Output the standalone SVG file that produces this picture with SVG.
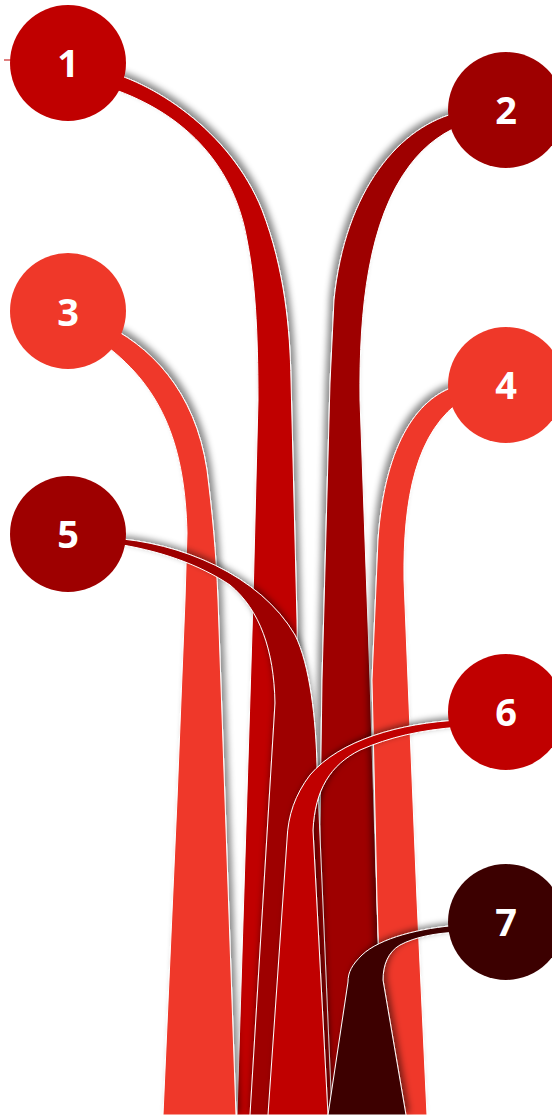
<svg xmlns="http://www.w3.org/2000/svg" width="552" height="1115" viewBox="0 0 552 1115">
<style>
.rib{stroke:#ffffff;stroke-width:1;stroke-linejoin:round}
.c1{fill:#C00000}.c2{fill:#9E0000}.c3{fill:#EF3829}.c7{fill:#3C0000}
.num{font-family:"Open Sans","DejaVu Sans",sans-serif;font-weight:700;font-size:38px;fill:#ffffff;text-anchor:middle}
</style>
<defs>
<filter id="shR" x="-30%" y="-10%" width="160%" height="130%"><feDropShadow dx="4" dy="-3" stdDeviation="3" flood-color="#000" flood-opacity="0.45"/></filter>
<filter id="shL" x="-30%" y="-10%" width="160%" height="130%"><feDropShadow dx="-4" dy="-3" stdDeviation="3" flood-color="#000" flood-opacity="0.45"/></filter>
<filter id="shU" x="-30%" y="-10%" width="160%" height="130%"><feDropShadow dx="0" dy="-3" stdDeviation="3" flood-color="#000" flood-opacity="0.45"/></filter>
<filter id="shUR" x="-30%" y="-20%" width="160%" height="140%"><feDropShadow dx="3" dy="-3" stdDeviation="3" flood-color="#000" flood-opacity="0.5"/></filter>
</defs>
<g id="connectors">
<path id="ribbon-1" class="rib c1" filter="url(#shR)" d="M 100,70 C 150,80 230,130 262,210 C 285,270 290,330 291,380 L 297,620 L 302,1115 L 237,1115 L 253,600 L 258,400 C 258,330 255,280 247,240 C 235,170 190,115 110,88 Z"/>
<path id="ribbon-2" class="rib c2" filter="url(#shL)" d="M 460,112 C 400,125 345,190 334,300 L 330,383 L 322,680 L 316,1115 L 384,1115 L 378,940 L 370,680 L 360,400 C 359,310 368,220 410,165 C 425,145 445,130 470,122 Z"/>
<path id="ribbon-3" class="rib c3" filter="url(#shR)" d="M 100,322 C 150,345 195,390 207,470 C 212,510 216,550 218,600 L 225,800 L 236,1115 L 163,1115 L 177,800 L 185,600 L 187,533 C 185,450 165,390 105,345 Z"/>
<path id="ribbon-4" class="rib c3" filter="url(#shL)" d="M 460,385 C 420,395 385,440 378,540 L 372,680 L 377,900 L 384,1115 L 427,1115 L 417,900 L 408,680 L 404,580 C 403,500 415,430 465,398 Z"/>
<path id="ribbon-5" class="rib c2" filter="url(#shU)" d="M 110,538 C 180,542 260,575 295,635 C 310,665 316,720 317,767 L 332,1115 L 250,1115 L 275,703 C 274,650 260,610 230,585 C 200,565 160,550 110,543 Z"/>
<path id="ribbon-6" class="rib c1" filter="url(#shUR)" d="M 460,720 C 400,723 340,740 310,775 C 295,795 288,815 287,840 L 268,1115 L 328,1115 L 313,830 C 315,790 330,765 360,750 C 390,737 420,730 460,727 Z"/>
<path id="ribbon-7" class="rib c7" filter="url(#shUR)" d="M 460,925 C 420,928 380,938 362,955 C 352,965 348,972 348,982 L 328,1115 L 406,1115 L 383,980 C 383,965 388,952 400,945 C 415,937 435,933 460,932 Z"/>
<line x1="4" y1="60" x2="14" y2="60" stroke="#C00000" stroke-width="1"/>
</g>
<g id="node-1"><circle class="c1" cx="68" cy="63" r="58"/><text class="num" x="68" y="77">1</text></g>
<g id="node-2"><circle class="c2" cx="506" cy="110" r="58"/><text class="num" x="506" y="124">2</text></g>
<g id="node-3"><circle class="c3" cx="68" cy="311" r="58"/><text class="num" x="68" y="326">3</text></g>
<g id="node-4"><circle class="c3" cx="506" cy="385" r="58"/><text class="num" x="506" y="399">4</text></g>
<g id="node-5"><circle class="c2" cx="68" cy="534" r="58"/><text class="num" x="68" y="548">5</text></g>
<g id="node-6"><circle class="c1" cx="506" cy="712" r="58"/><text class="num" x="506" y="726">6</text></g>
<g id="node-7"><circle class="c7" cx="506" cy="922" r="58"/><text class="num" x="506" y="936">7</text></g>
</svg>
